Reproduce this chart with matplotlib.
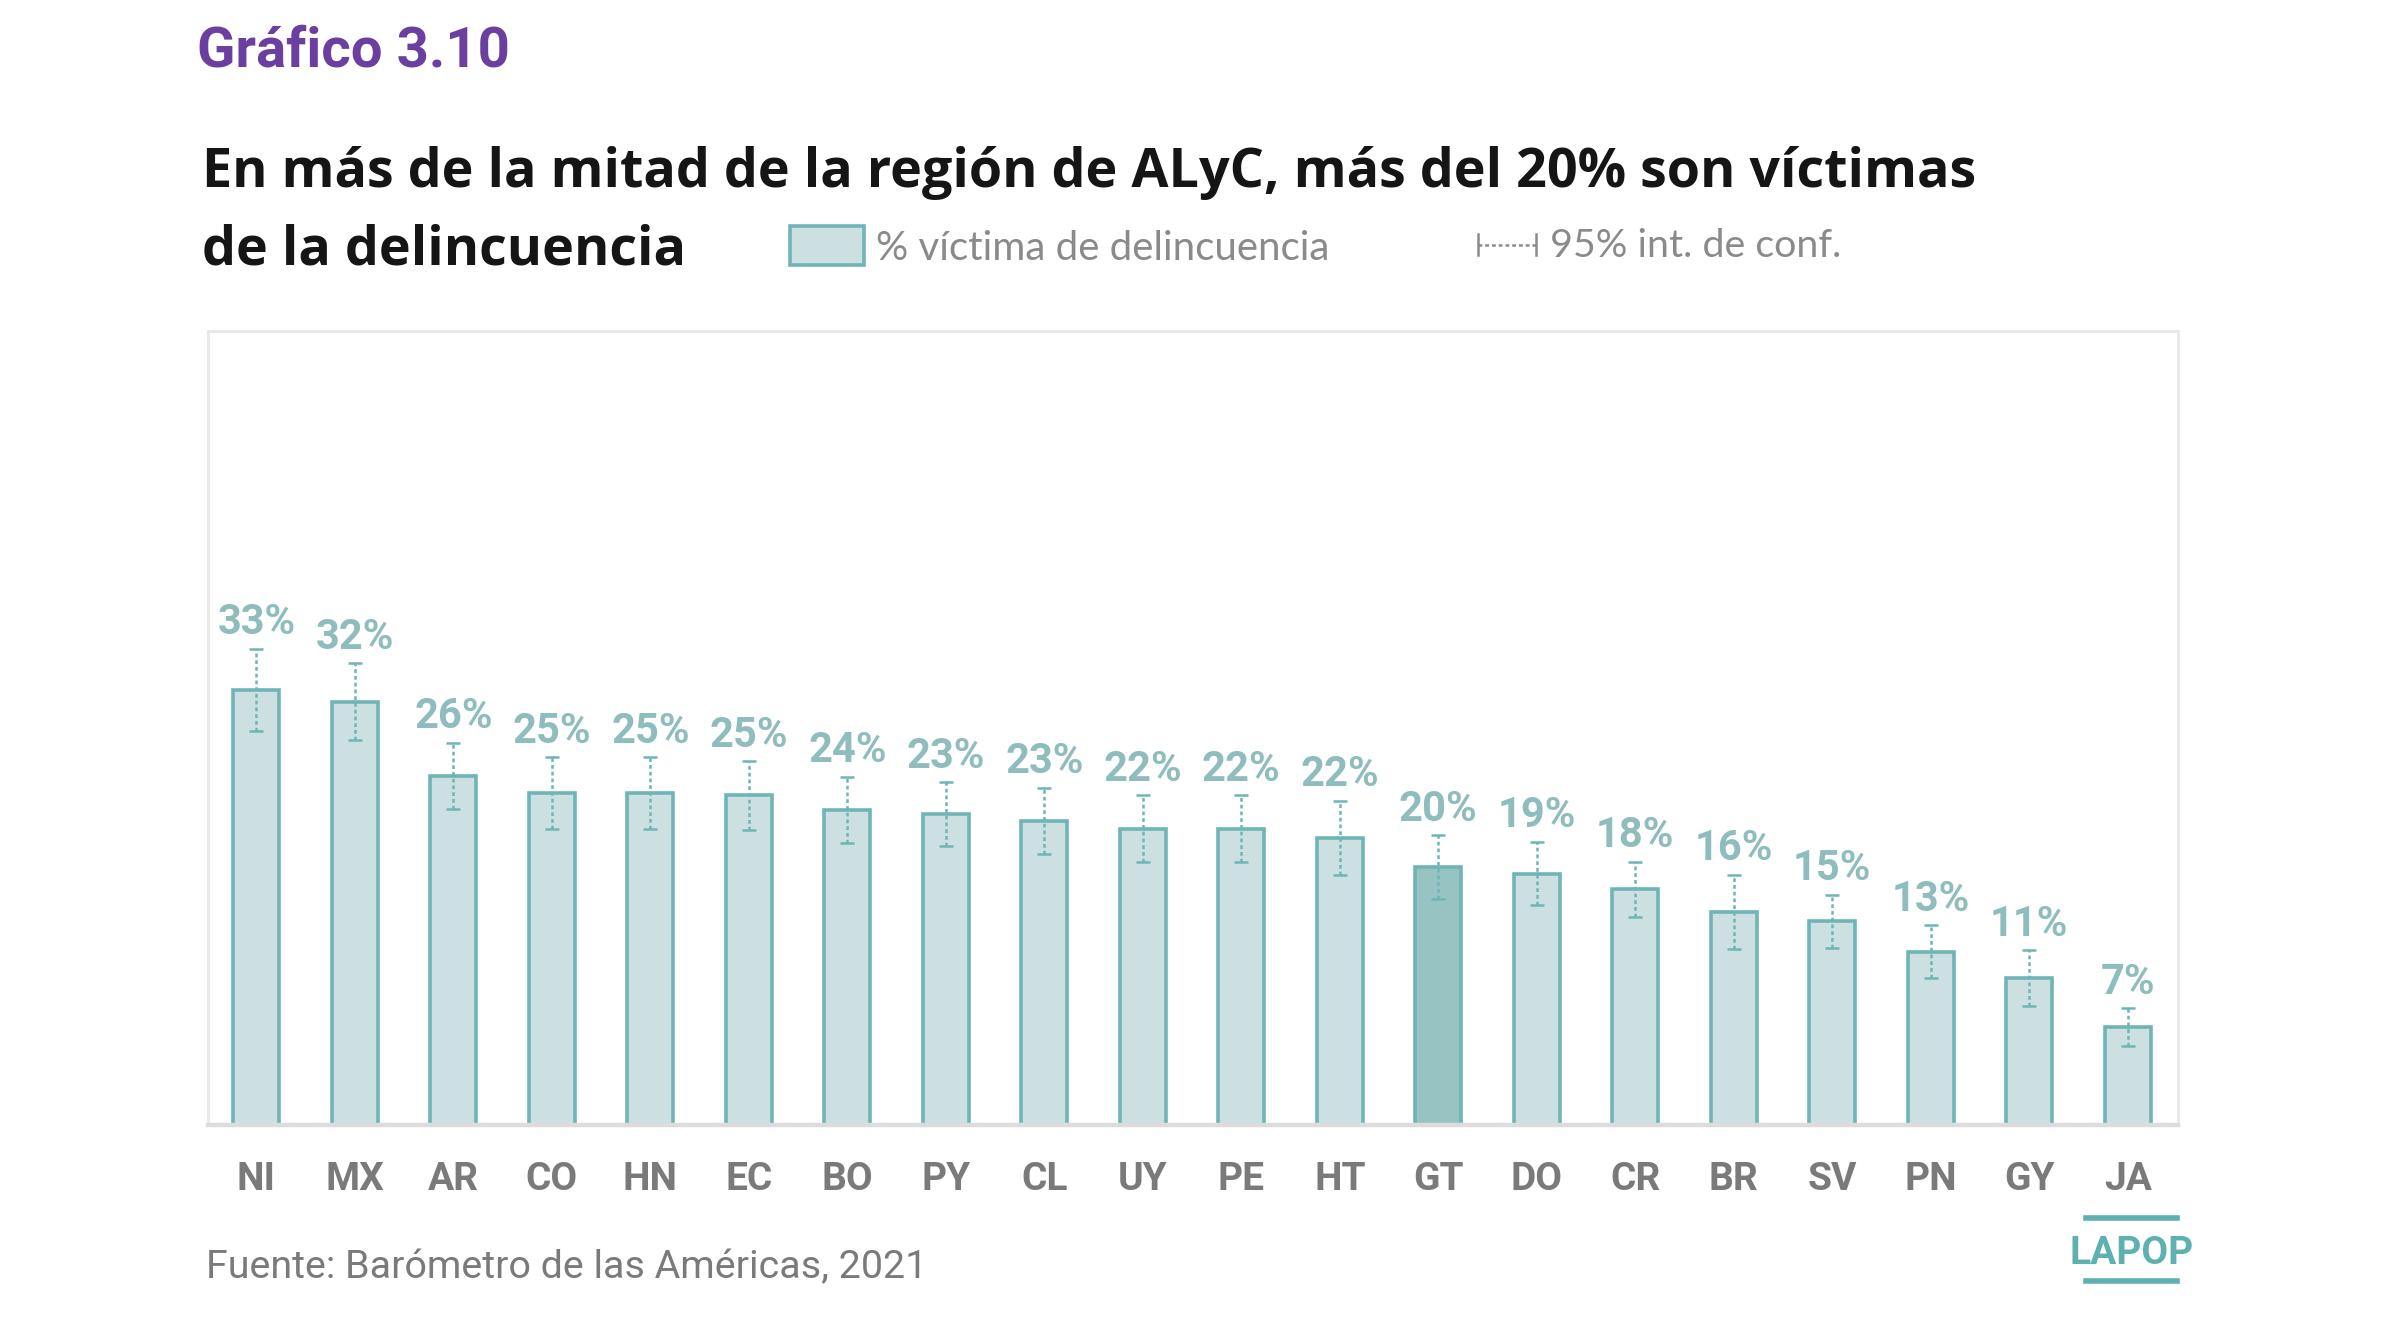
import matplotlib
matplotlib.use("Agg")
from matplotlib import pyplot as plt
from matplotlib.patches import Rectangle
from matplotlib.lines import Line2D

# data
countries = ["NI", "MX", "AR", "CO", "HN", "EC", "BO", "PY", "CL", "UY",
             "PE", "HT", "GT", "DO", "CR", "BR", "SV", "PN", "GY", "JA"]
victims = [32.9, 32.0, 26.4, 25.1, 25.1, 24.9, 23.8, 23.5, 23.0, 22.4,
           22.4, 21.7, 19.5, 19.0, 17.8, 16.1, 15.4, 13.1, 11.1, 7.4]
ci_half = [3.1, 2.9, 2.5, 2.7, 2.7, 2.6, 2.5, 2.4, 2.5, 2.5,
           2.5, 2.8, 2.4, 2.4, 2.1, 2.8, 2.0, 2.0, 2.1, 1.4]
labels = ["33%", "32%", "26%", "25%", "25%", "25%", "24%", "23%", "23%", "22%",
          "22%", "22%", "20%", "19%", "18%", "16%", "15%", "13%", "11%", "7%"]
highlight = "GT"

teal = "#6fb5b6"
fill = "#cde0e1"
fill_dark = "#98c3c3"
label_col = "#8fbcbc"
grey = "#7a7a7a"

fig = plt.figure(figsize=(12, 6.72), dpi=200)
ax = fig.add_axes([0.0867, 0.163, 0.8208, 0.5907])

x = list(range(len(countries)))
colors = [fill_dark if c == highlight else fill for c in countries]
ax.bar(x, victims, width=0.47, color=colors, edgecolor=teal, linewidth=1.3, zorder=2)

eb = ax.errorbar(x, victims, yerr=ci_half, fmt="none", ecolor=teal,
                 elinewidth=0.9, capsize=2.5, capthick=0.9, zorder=3)
eb[2][0].set_linestyle((0, (1.5, 1.2)))

for xi, v, e, lab in zip(x, victims, ci_half, labels):
    ax.annotate(lab, (xi, v + e), xytext=(0, 2), textcoords="offset points",
                ha="center", va="bottom", fontsize=15, fontweight="bold",
                color=label_col, family="Roboto")

ax.set_xlim(-0.49, 19.51)
ax.set_ylim(0, 60)
ax.set_yticks([])
ax.set_xticks(x)
ax.set_xticklabels(countries, fontsize=14, fontweight="bold", color=grey, family="Roboto")
ax.tick_params(axis="x", length=0, pad=13)
for s in ["left", "top", "right"]:
    ax.spines[s].set_color("#e8e8e8")
    ax.spines[s].set_linewidth(1.0)
ax.spines["bottom"].set_color("#dcdcdc")
ax.spines["bottom"].set_linewidth(1.6)

# headings
fig.text(0.082, 0.962, "Gráfico 3.10", fontsize=20.3, fontweight="bold",
         color="#6b3fa0", family="Roboto", va="center")
fig.text(0.084, 0.861, "En más de la mitad de la región de ALyC, más del 20% son víctimas",
         fontsize=19.4, fontweight="bold", color="#151515", family="Open Sans", va="baseline")
fig.text(0.084, 0.803, "de la delincuencia",
         fontsize=19.4, fontweight="bold", color="#151515", family="Open Sans", va="baseline")

# legend
fig.add_artist(Rectangle((0.329, 0.803), 0.031, 0.029, transform=fig.transFigure,
                         facecolor=fill, edgecolor=teal, linewidth=1.3))
fig.text(0.365, 0.815, "% víctima de delincuencia", fontsize=14.5, color="#8a8a8a",
         family="Lato", va="center")
lx0, lx1, ly = 0.616, 0.640, 0.818
fig.add_artist(Line2D([lx0, lx1], [ly, ly], transform=fig.transFigure, color="#8a8a8a",
                      linewidth=0.9, linestyle=(0, (1.5, 1.2))))
for lx in (lx0, lx1):
    fig.add_artist(Line2D([lx, lx], [ly - 0.008, ly + 0.008], transform=fig.transFigure,
                          color="#8a8a8a", linewidth=0.9))
fig.text(0.646, 0.817, "95% int. de conf.", fontsize=14.2, color="#8a8a8a",
         family="Lato", va="center")

# footer
fig.text(0.086, 0.057, "Fuente: Barómetro de las Américas, 2021", fontsize=14.2,
         color=grey, family="Roboto", va="center")
fig.text(0.888, 0.067, "LAPOP", fontsize=14, fontweight="bold", color="#5fb0b0",
         family="Roboto", va="center", ha="center")
for ly in (0.094, 0.047):
    fig.add_artist(Line2D([0.869, 0.907], [ly, ly], transform=fig.transFigure,
                          color="#5fb0b0", linewidth=2.0))

fig.savefig("out.png", dpi=200, facecolor="white")
